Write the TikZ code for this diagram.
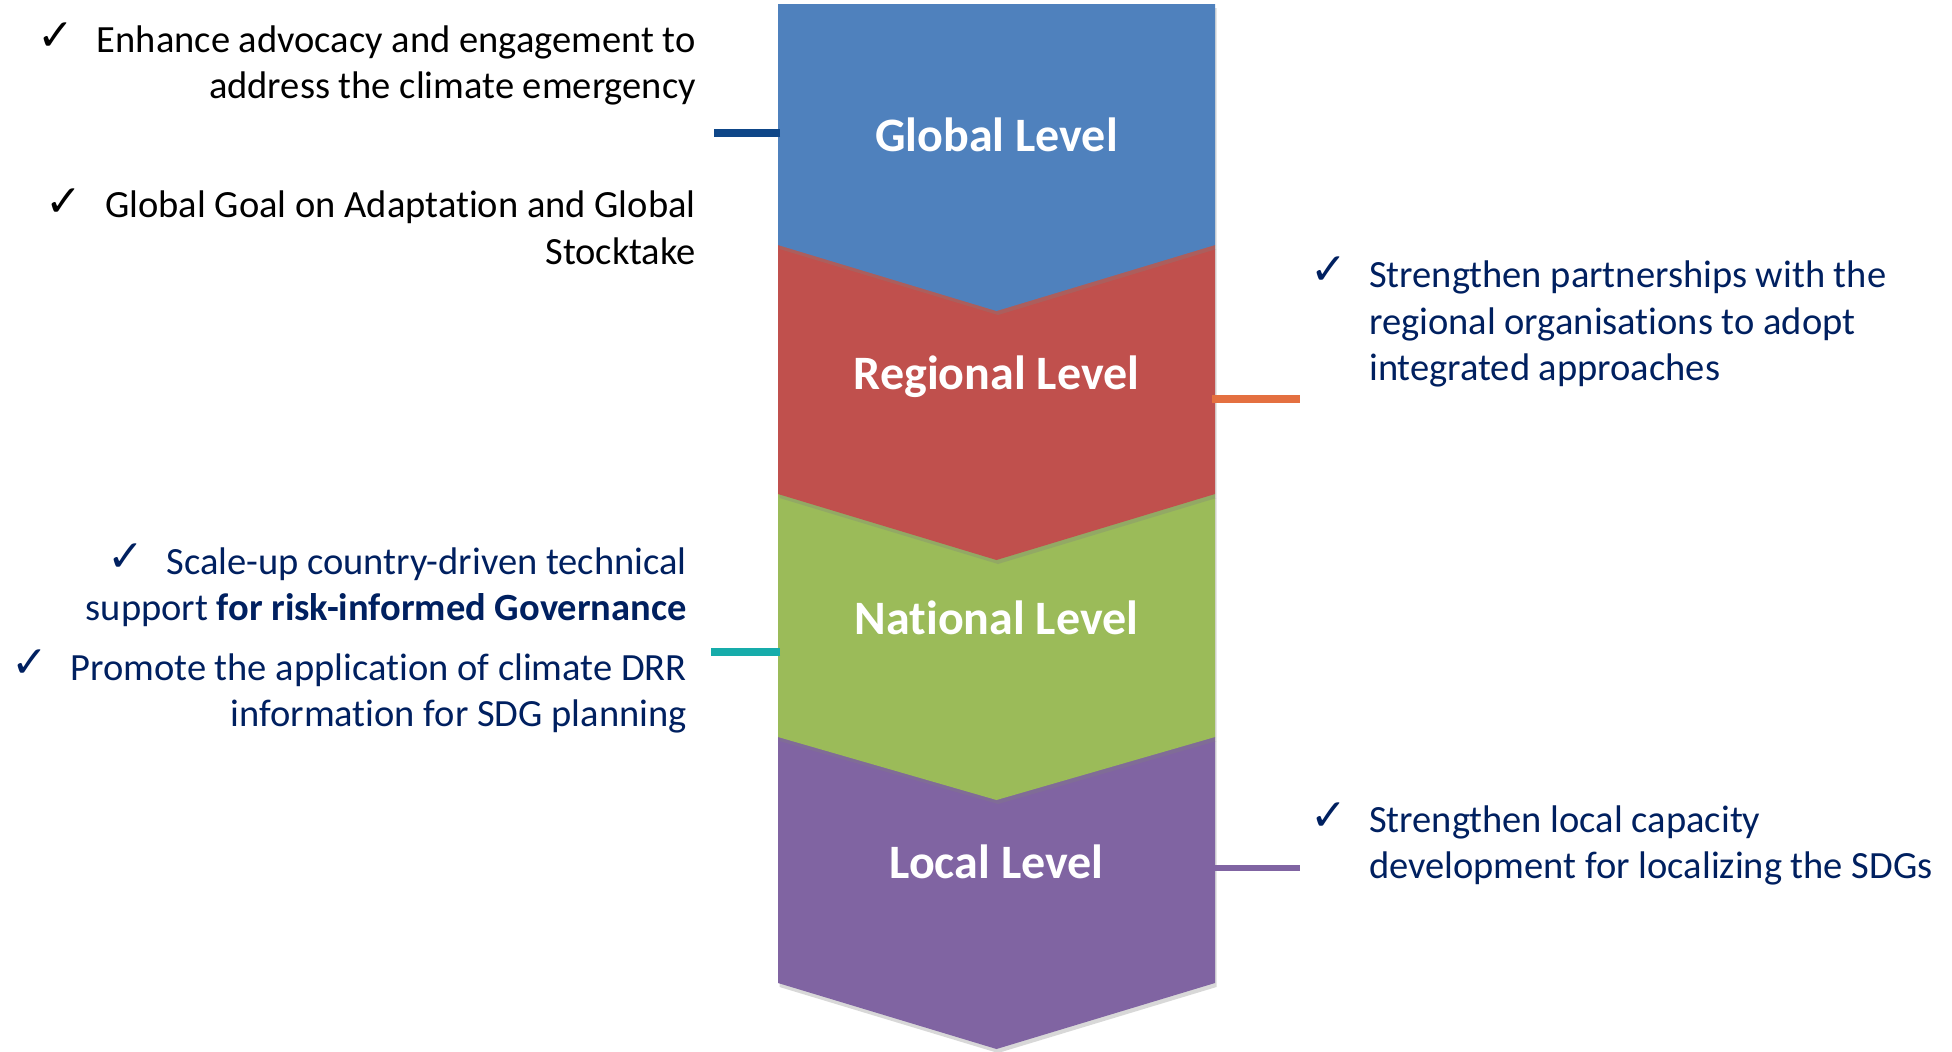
\documentclass[tikz,border=0pt]{standalone}
\usepackage{fontspec}
\setmainfont[Ligatures={NoCommon,NoRare,NoContextual}]{Carlito}
\newfontfamily\symfont{DejaVu Sans}
\usetikzlibrary{shadows}
\definecolor{gblue}{RGB}{79,129,189}
\definecolor{gred}{RGB}{192,80,77}
\definecolor{ggreen}{RGB}{155,187,89}
\definecolor{gpurple}{RGB}{128,100,162}
\definecolor{navy}{RGB}{0,32,96}
\definecolor{lnavy}{RGB}{14,70,136}
\definecolor{lorange}{RGB}{228,112,64}
\definecolor{lteal}{RGB}{22,172,170}
\definecolor{lpurple}{RGB}{128,100,162}
\begin{document}
\begin{tikzpicture}[x=1pt,y=-1pt,
  band/.style={drop shadow={shadow xshift=1.5pt,shadow yshift=-4pt,opacity=0.3}},
  lvl/.style={text=white,font=\fontsize{48}{58}\selectfont\bfseries,anchor=base,inner sep=0pt},
  ltxt/.style={font=\fontsize{38.5}{46}\selectfont,anchor=base east,inner sep=0pt},
  rtxt/.style={font=\fontsize{38.5}{46}\selectfont,anchor=base west,inner sep=0pt,text=navy},
  chk/.style={font=\symfont\fontsize{44}{46}\selectfont,inner sep=0pt},
  stub/.style={line width=7.5pt}]
\useasboundingbox[fill=white] (0,0) rectangle (1952,1052);
% chevrons (bottom first)
\fill[gpurple,band] (778,737) -- (1215,737) -- (1215,983) -- (996.5,1049) -- (778,983) -- cycle;
\fill[ggreen,band] (778,494) -- (1215,494) -- (1215,737) -- (996.5,800) -- (778,737) -- cycle;
\fill[gred,band] (778,245) -- (1215,245) -- (1215,494) -- (996.5,560) -- (778,494) -- cycle;
\fill[gblue,band] (778,4) -- (1215,4) -- (1215,245) -- (996.5,311) -- (778,245) -- cycle;
% level labels
\node[lvl] (gl) at (996.5,151) {Global Level};
\node[lvl] (rl) at (996.5,389) {Regional Level};
\node[lvl] (nl) at (996.5,634) {National Level};
\node[lvl] (ll) at (996.5,878) {Local Level};
% stubs
\coordinate (gA) at (780,133); \coordinate (gB) at (714,133);
\coordinate (rA) at (1212,399); \coordinate (rB) at (1300,399);
\coordinate (nA) at (780,652); \coordinate (nB) at (711,652);
\coordinate (lA) at (1213,868); \coordinate (lB) at (1300,868);
\draw[stub,lnavy] (gA) -- (gB);
\draw[stub,lorange] (rA) -- (rB);
\draw[stub,lteal] (nA) -- (nB);
\draw[stub,lpurple,line width=6.5pt] (lA) -- (lB);
% left texts
\node[chk] (c1) at (56,37) {✓};
\node[ltxt] (t1a) at (696,52) {Enhance advocacy and engagement to};
\node[ltxt] (t1b) at (696,98) {address the climate emergency};
\node[chk] (c2) at (64,203) {✓};
\node[ltxt] (t2a) at (696,217) {Global Goal on Adaptation and Global};
\node[ltxt] (t2b) at (696,264) {Stocktake};
\node[chk,text=navy] (c3) at (126,558) {✓};
\node[ltxt,text=navy] (t3a) at (687,574) {Scale-up country-driven technical};
\node[ltxt,text=navy] (t3b) at (687,620) {support \textbf{for risk-informed Governance}};
\node[chk,text=navy] (c4) at (30,664) {✓};
\node[ltxt,text=navy] (t4a) at (687,680) {Promote the application of climate DRR};
\node[ltxt,text=navy] (t4b) at (687,726) {information for SDG planning};
% right texts
\node[chk,text=navy] (c5) at (1329,271) {✓};
\node[rtxt] (t5a) at (1369,287) {Strengthen partnerships with the};
\node[rtxt] (t5b) at (1369,334) {regional organisations to adopt};
\node[rtxt] (t5c) at (1369,380) {integrated approaches};
\node[chk,text=navy] (c6) at (1329,817) {✓};
\node[rtxt] (t6a) at (1369,832) {Strengthen local capacity};
\node[rtxt] (t6b) at (1369,878) {development for localizing the SDGs};
\end{tikzpicture}
\end{document}
